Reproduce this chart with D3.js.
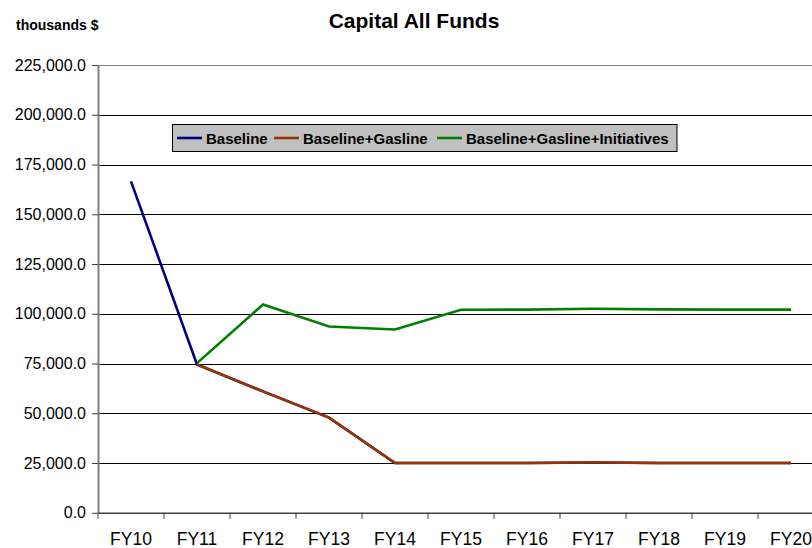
<!DOCTYPE html>
<html><head><meta charset="utf-8">
<script src="https://cdn.jsdelivr.net/npm/d3@7"></script>
<style>body{margin:0;background:#fff}svg{display:block;font-family:"Liberation Sans",Arial,sans-serif}</style>
</head><body>
<svg id="c" width="812" height="548"></svg>
<script>
const categories = ["FY10","FY11","FY12","FY13","FY14","FY15","FY16","FY17","FY18","FY19","FY20"];
const baseline = [166500, 74500, 61000, 47800, 25000, 25000, 25000, 25300, 25000, 25000, 25000];
const baselineGasline = [null, 74500, 61000, 47800, 25000, 25000, 25000, 25300, 25000, 25000, 25000];
const baselineGaslineInitiatives = [null, 75200, 104700, 93600, 92100, 102000, 102100, 102500, 102200, 102100, 102100];
const yTicks = [0,25000,50000,75000,100000,125000,150000,175000,200000,225000];
const seriesNames = ["Baseline","Baseline+Gasline","Baseline+Gasline+Initiatives"];
const seriesColors = ["#000080","#993300","#008000"];

(function(){
const svg = d3.select("#c");
const FF = "Liberation Sans, Arial, sans-serif";
const pl = 98, pr = 98 + 66*11, pt = 65, pb = 512.8;
const x = d3.scaleBand().domain(categories).range([pl, pr]);
const y = d3.scaleLinear().domain([0,225000]).range([pb, pt]);

// gridlines
svg.append("g").selectAll("line").data(yTicks.filter(d=>d>0)).join("line")
  .attr("x1", pl).attr("x2", pr)
  .attr("y1", d=>Math.round(y(d))+0.5).attr("y2", d=>Math.round(y(d))+0.5)
  .attr("stroke", d=>d===225000?"#808080":"#000").attr("stroke-width",1);

// y axis
const fmt = d3.format(",.1f");
const ya = svg.append("g").attr("transform",`translate(${pl},0)`)
  .call(d3.axisLeft(y).tickValues(yTicks).tickFormat(fmt).tickSizeOuter(0).tickSizeInner(6).tickPadding(6));
ya.select(".domain").attr("stroke","#808080").attr("stroke-width",2);
ya.selectAll(".tick line").attr("stroke","#404040");
ya.selectAll("text").attr("font-size",16).attr("fill","#000").attr("font-family",FF);

// x axis
const xa = svg.append("g").attr("transform",`translate(0,${pb})`)
  .call(d3.axisBottom(x).tickSize(0).tickSizeOuter(0).tickPadding(0));
xa.select(".domain").attr("stroke","#404040").attr("stroke-width",1.5);
xa.selectAll("text").attr("font-size",17.5).attr("fill","#000").attr("dy",null).attr("y",32).attr("font-family",FF);
svg.append("g").selectAll("line").data(categories).join("line")
  .attr("x1", d=>x(d)).attr("x2", d=>x(d)).attr("y1", pb).attr("y2", pb+6)
  .attr("stroke","#404040");

// lines
const data = [baseline, baselineGasline, baselineGaslineInitiatives];
const line = d3.line().defined(d=>d!=null)
  .x((d,i)=>x(categories[i])+x.bandwidth()/2).y(d=>y(d));
data.forEach((s,k)=>{
  svg.append("path").datum(s).attr("d", line).attr("fill","none")
    .attr("stroke", seriesColors[k]).attr("stroke-width",2.6).attr("stroke-linejoin","miter");
});

// title
svg.append("text").attr("x",414).attr("y",27.5).attr("text-anchor","middle")
  .attr("font-size",21).attr("font-weight","bold").text("Capital All Funds");
svg.append("text").attr("x",16).attr("y",30)
  .attr("font-size",14).attr("font-weight","bold").text("thousands $");

// legend
const lg = svg.append("g");
lg.append("rect").attr("x",172.5).attr("y",124.5).attr("width",504.5).attr("height",27)
  .attr("fill","#c0c0c0").attr("stroke","#000").attr("stroke-width",1);
const lx = [177, 274, 437];
seriesNames.forEach((n,k)=>{
  lg.append("line").attr("x1",lx[k]).attr("x2",lx[k]+25).attr("y1",138).attr("y2",138)
    .attr("stroke",seriesColors[k]).attr("stroke-width",2.6);
  lg.append("text").attr("x",lx[k]+29).attr("y",144).attr("font-size",15).attr("font-weight","bold").text(n);
});
})();
</script>
</body></html>
